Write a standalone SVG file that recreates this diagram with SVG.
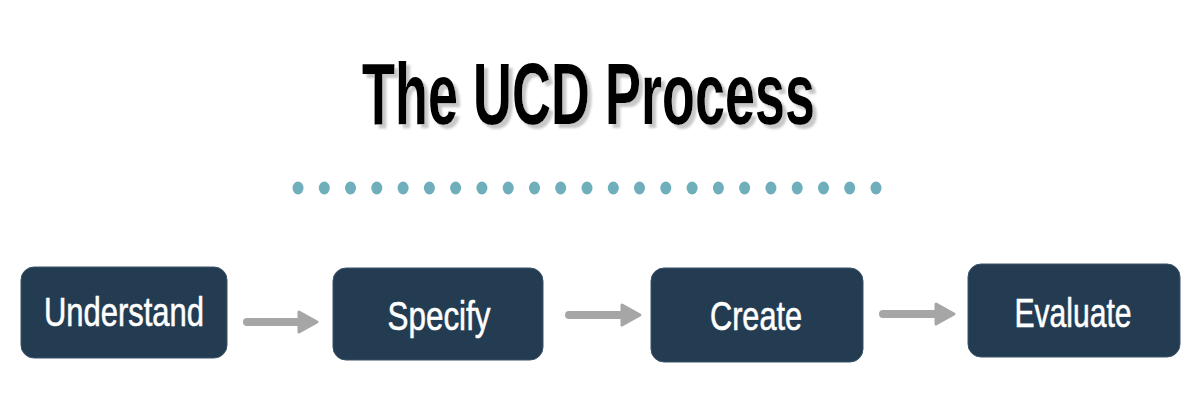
<svg xmlns="http://www.w3.org/2000/svg" width="1200" height="407" viewBox="0 0 1200 407">
<defs>
<style>
.title{font-family:"Liberation Sans",Arial,sans-serif;font-size:88px;font-weight:bold}
.box{fill:#233c52;stroke:#3a5268;stroke-width:1}
.lbl{font-family:"Liberation Sans",Arial,sans-serif;font-size:41px;fill:#ffffff;stroke:#ffffff;stroke-width:0.6;text-anchor:middle}
.dot{fill:#6fafbb}
.arr{stroke:#a6a6a6;stroke-width:8;stroke-linecap:round;fill:none}
.head{fill:#a6a6a6;stroke:#a6a6a6;stroke-width:3;stroke-linejoin:round}
</style>
<filter id="shadow" x="-5%" y="-20%" width="112%" height="145%">
<feGaussianBlur in="SourceAlpha" stdDeviation="1.2" result="b"/>
<feOffset in="b" dx="4" dy="4" result="o"/>
<feFlood flood-color="#c8c8c8"/>
<feComposite in2="o" operator="in" result="s"/>
<feMerge><feMergeNode in="s"/><feMergeNode in="SourceGraphic"/></feMerge>
</filter>
</defs>
<rect width="1200" height="407" fill="#ffffff"/>
<g id="title">
<text class="title" x="362" y="124" fill="#000000" filter="url(#shadow)" textLength="453" lengthAdjust="spacingAndGlyphs">The UCD Process</text>
</g>
<g id="dots">
<ellipse class="dot" cx="298" cy="188" rx="5.5" ry="6.5"/>
<ellipse class="dot" cx="324.3" cy="188" rx="5.5" ry="6.5"/>
<ellipse class="dot" cx="350.5" cy="188" rx="5.5" ry="6.5"/>
<ellipse class="dot" cx="376.8" cy="188" rx="5.5" ry="6.5"/>
<ellipse class="dot" cx="403.1" cy="188" rx="5.5" ry="6.5"/>
<ellipse class="dot" cx="429.4" cy="188" rx="5.5" ry="6.5"/>
<ellipse class="dot" cx="455.6" cy="188" rx="5.5" ry="6.5"/>
<ellipse class="dot" cx="481.9" cy="188" rx="5.5" ry="6.5"/>
<ellipse class="dot" cx="508.2" cy="188" rx="5.5" ry="6.5"/>
<ellipse class="dot" cx="534.5" cy="188" rx="5.5" ry="6.5"/>
<ellipse class="dot" cx="560.7" cy="188" rx="5.5" ry="6.5"/>
<ellipse class="dot" cx="587" cy="188" rx="5.5" ry="6.5"/>
<ellipse class="dot" cx="613.3" cy="188" rx="5.5" ry="6.5"/>
<ellipse class="dot" cx="639.5" cy="188" rx="5.5" ry="6.5"/>
<ellipse class="dot" cx="665.8" cy="188" rx="5.5" ry="6.5"/>
<ellipse class="dot" cx="692.1" cy="188" rx="5.5" ry="6.5"/>
<ellipse class="dot" cx="718.4" cy="188" rx="5.5" ry="6.5"/>
<ellipse class="dot" cx="744.6" cy="188" rx="5.5" ry="6.5"/>
<ellipse class="dot" cx="770.9" cy="188" rx="5.5" ry="6.5"/>
<ellipse class="dot" cx="797.2" cy="188" rx="5.5" ry="6.5"/>
<ellipse class="dot" cx="823.5" cy="188" rx="5.5" ry="6.5"/>
<ellipse class="dot" cx="849.7" cy="188" rx="5.5" ry="6.5"/>
<ellipse class="dot" cx="876" cy="188" rx="5.5" ry="6.5"/>
</g>
<g id="connectors">
<line class="arr" x1="247" y1="322" x2="302" y2="322"/>
<polygon class="head" points="299,312 317,322 299,332"/>
<line class="arr" x1="569" y1="315" x2="625" y2="315"/>
<polygon class="head" points="622,305 640,315 622,325"/>
<line class="arr" x1="883" y1="314" x2="939" y2="314"/>
<polygon class="head" points="936,304 954,314 936,324"/>
</g>
<g id="node-understand">
<rect class="box" x="21" y="267" width="206" height="91" rx="13"/>
<text class="lbl" x="124" y="326" textLength="160" lengthAdjust="spacingAndGlyphs">Understand</text>
</g>
<g id="node-specify">
<rect class="box" x="333" y="268" width="210" height="92" rx="13"/>
<text class="lbl" x="439" y="330" textLength="103" lengthAdjust="spacingAndGlyphs">Specify</text>
</g>
<g id="node-create">
<rect class="box" x="651" y="268" width="212" height="94" rx="13"/>
<text class="lbl" x="756" y="330" textLength="92" lengthAdjust="spacingAndGlyphs">Create</text>
</g>
<g id="node-evaluate">
<rect class="box" x="968" y="264" width="212" height="93" rx="13"/>
<text class="lbl" x="1073" y="327" textLength="117" lengthAdjust="spacingAndGlyphs">Evaluate</text>
</g>
</svg>
